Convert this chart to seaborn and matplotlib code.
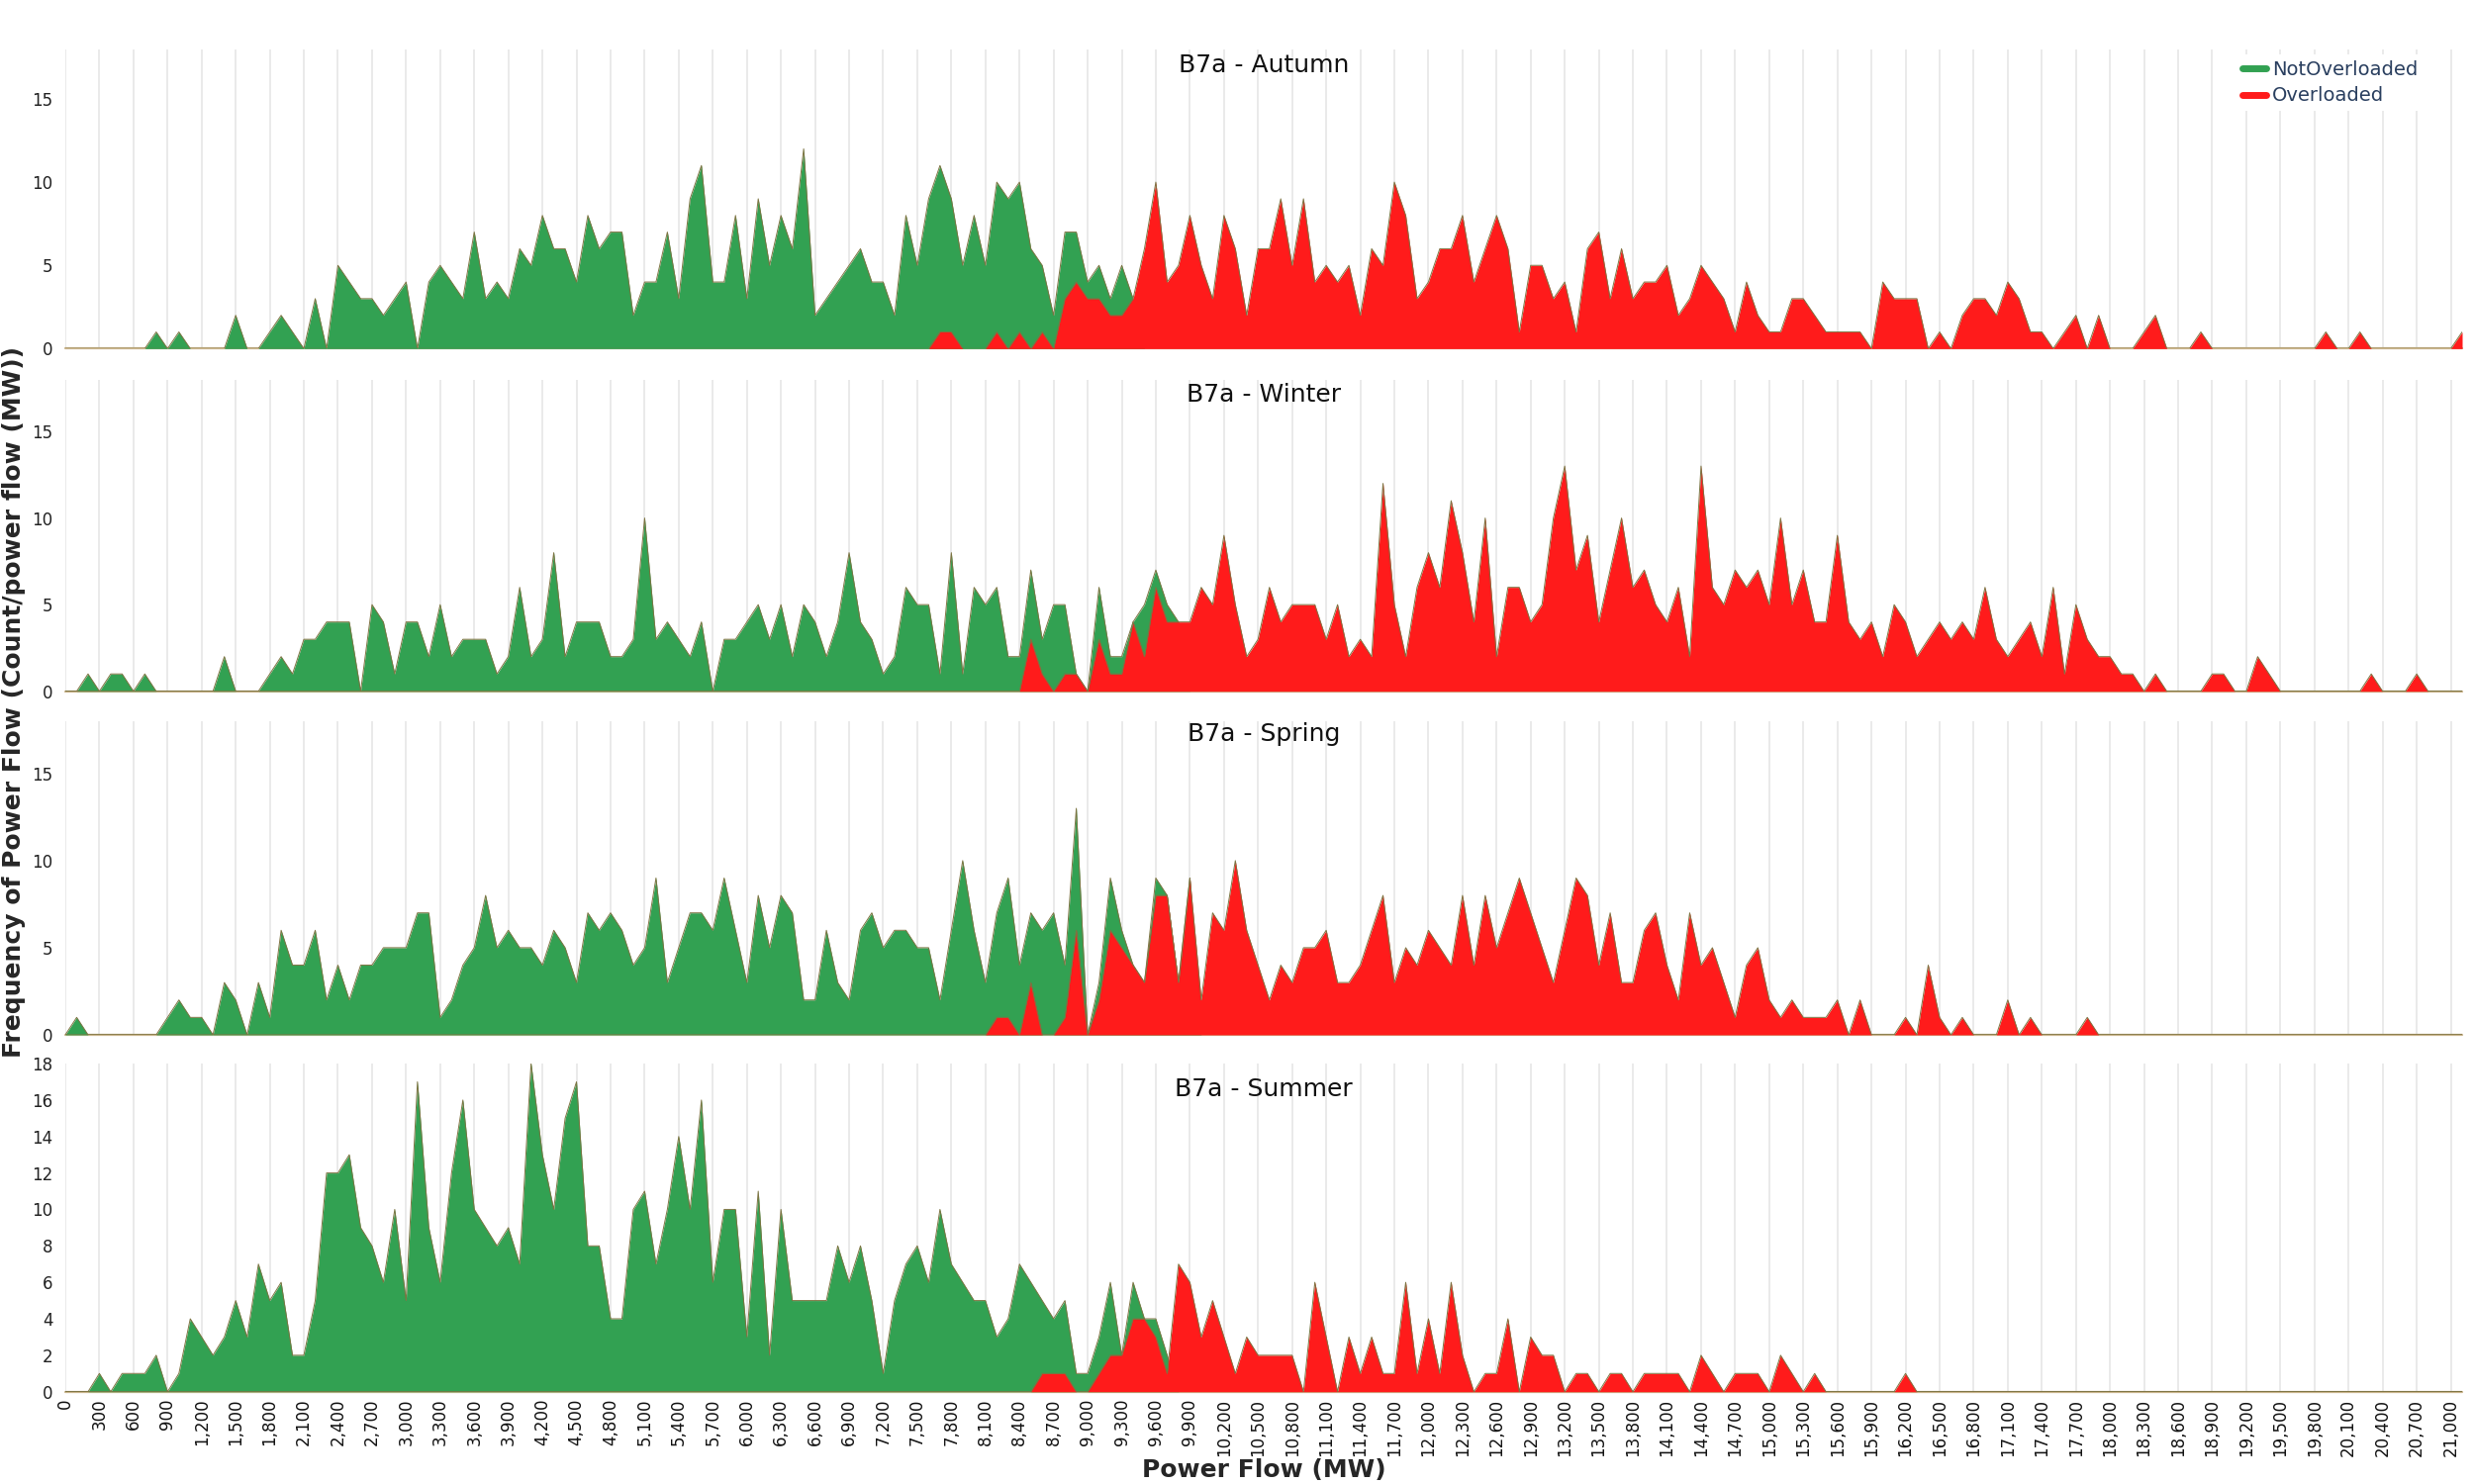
import matplotlib
matplotlib.use("Agg")
import matplotlib.pyplot as plt
import seaborn as sns
import numpy as np
from matplotlib.lines import Line2D

# ---------------- data (counts per 100 MW bin, 0 .. 21,100 MW) ----------------
power_flow_mw = list(range(0, 21101, 100))

autumn_not_overloaded = [
    0, 0, 0, 0, 0, 0, 0, 0, 1, 0,
    1, 0, 0, 0, 0, 2, 0, 0, 1, 2,
    1, 0, 3, 0, 5, 4, 3, 3, 2, 3,
    4, 0, 4, 5, 4, 3, 7, 3, 4, 3,
    6, 5, 8, 6, 6, 4, 8, 6, 7, 7,
    2, 4, 4, 7, 3, 9, 11, 4, 4, 8,
    3, 9, 5, 8, 6, 12, 2, 3, 4, 5,
    6, 4, 4, 2, 8, 5, 9, 11, 9, 5,
    8, 5, 10, 9, 10, 6, 5, 2, 7, 7,
    4, 5, 3, 5, 3, 0, 0, 0, 0, 0,
    0, 0, 0, 0, 0, 0, 0, 0, 0, 0,
    0, 0, 0, 0, 0, 0, 0, 0, 0, 0,
    0, 0, 0, 0, 0, 0, 0, 0, 0, 0,
    0, 0, 0, 0, 0, 0, 0, 0, 0, 0,
    0, 0, 0, 0, 0, 0, 0, 0, 0, 0,
    0, 0, 0, 0, 0, 0, 0, 0, 0, 0,
    0, 0, 0, 0, 0, 0, 0, 0, 0, 0,
    0, 0, 0, 0, 0, 0, 0, 0, 0, 0,
    0, 0, 0, 0, 0, 0, 0, 0, 0, 0,
    0, 0, 0, 0, 0, 0, 0, 0, 0, 0,
    0, 0, 0, 0, 0, 0, 0, 0, 0, 0,
    0, 0]
autumn_overloaded = [
    0, 0, 0, 0, 0, 0, 0, 0, 0, 0,
    0, 0, 0, 0, 0, 0, 0, 0, 0, 0,
    0, 0, 0, 0, 0, 0, 0, 0, 0, 0,
    0, 0, 0, 0, 0, 0, 0, 0, 0, 0,
    0, 0, 0, 0, 0, 0, 0, 0, 0, 0,
    0, 0, 0, 0, 0, 0, 0, 0, 0, 0,
    0, 0, 0, 0, 0, 0, 0, 0, 0, 0,
    0, 0, 0, 0, 0, 0, 0, 1, 1, 0,
    0, 0, 1, 0, 1, 0, 1, 0, 3, 4,
    3, 3, 2, 2, 3, 6, 10, 4, 5, 8,
    5, 3, 8, 6, 2, 6, 6, 9, 5, 9,
    4, 5, 4, 5, 2, 6, 5, 10, 8, 3,
    4, 6, 6, 8, 4, 6, 8, 6, 1, 5,
    5, 3, 4, 1, 6, 7, 3, 6, 3, 4,
    4, 5, 2, 3, 5, 4, 3, 1, 4, 2,
    1, 1, 3, 3, 2, 1, 1, 1, 1, 0,
    4, 3, 3, 3, 0, 1, 0, 2, 3, 3,
    2, 4, 3, 1, 1, 0, 1, 2, 0, 2,
    0, 0, 0, 1, 2, 0, 0, 0, 1, 0,
    0, 0, 0, 0, 0, 0, 0, 0, 0, 1,
    0, 0, 1, 0, 0, 0, 0, 0, 0, 0,
    0, 1]

winter_not_overloaded = [
    0, 0, 1, 0, 1, 1, 0, 1, 0, 0,
    0, 0, 0, 0, 2, 0, 0, 0, 1, 2,
    1, 3, 3, 4, 4, 4, 0, 5, 4, 1,
    4, 4, 2, 5, 2, 3, 3, 3, 1, 2,
    6, 2, 3, 8, 2, 4, 4, 4, 2, 2,
    3, 10, 3, 4, 3, 2, 4, 0, 3, 3,
    4, 5, 3, 5, 2, 5, 4, 2, 4, 8,
    4, 3, 1, 2, 6, 5, 5, 1, 8, 1,
    6, 5, 6, 2, 2, 7, 3, 5, 5, 1,
    0, 6, 2, 2, 4, 5, 7, 5, 4, 0,
    0, 0, 0, 0, 0, 0, 0, 0, 0, 0,
    0, 0, 0, 0, 0, 0, 0, 0, 0, 0,
    0, 0, 0, 0, 0, 0, 0, 0, 0, 0,
    0, 0, 0, 0, 0, 0, 0, 0, 0, 0,
    0, 0, 0, 0, 0, 0, 0, 0, 0, 0,
    0, 0, 0, 0, 0, 0, 0, 0, 0, 0,
    0, 0, 0, 0, 0, 0, 0, 0, 0, 0,
    0, 0, 0, 0, 0, 0, 0, 0, 0, 0,
    0, 0, 0, 0, 0, 0, 0, 0, 0, 0,
    0, 0, 0, 0, 0, 0, 0, 0, 0, 0,
    0, 0, 0, 0, 0, 0, 0, 0, 0, 0,
    0, 0]
winter_overloaded = [
    0, 0, 0, 0, 0, 0, 0, 0, 0, 0,
    0, 0, 0, 0, 0, 0, 0, 0, 0, 0,
    0, 0, 0, 0, 0, 0, 0, 0, 0, 0,
    0, 0, 0, 0, 0, 0, 0, 0, 0, 0,
    0, 0, 0, 0, 0, 0, 0, 0, 0, 0,
    0, 0, 0, 0, 0, 0, 0, 0, 0, 0,
    0, 0, 0, 0, 0, 0, 0, 0, 0, 0,
    0, 0, 0, 0, 0, 0, 0, 0, 0, 0,
    0, 0, 0, 0, 0, 3, 1, 0, 1, 1,
    0, 3, 1, 1, 4, 2, 6, 4, 4, 4,
    6, 5, 9, 5, 2, 3, 6, 4, 5, 5,
    5, 3, 5, 2, 3, 2, 12, 5, 2, 6,
    8, 6, 11, 8, 4, 10, 2, 6, 6, 4,
    5, 10, 13, 7, 9, 4, 7, 10, 6, 7,
    5, 4, 6, 2, 13, 6, 5, 7, 6, 7,
    5, 10, 5, 7, 4, 4, 9, 4, 3, 4,
    2, 5, 4, 2, 3, 4, 3, 4, 3, 6,
    3, 2, 3, 4, 2, 6, 1, 5, 3, 2,
    2, 1, 1, 0, 1, 0, 0, 0, 0, 1,
    1, 0, 0, 2, 1, 0, 0, 0, 0, 0,
    0, 0, 0, 1, 0, 0, 0, 1, 0, 0,
    0, 0]

spring_not_overloaded = [
    0, 1, 0, 0, 0, 0, 0, 0, 0, 1,
    2, 1, 1, 0, 3, 2, 0, 3, 1, 6,
    4, 4, 6, 2, 4, 2, 4, 4, 5, 5,
    5, 7, 7, 1, 2, 4, 5, 8, 5, 6,
    5, 5, 4, 6, 5, 3, 7, 6, 7, 6,
    4, 5, 9, 3, 5, 7, 7, 6, 9, 6,
    3, 8, 5, 8, 7, 2, 2, 6, 3, 2,
    6, 7, 5, 6, 6, 5, 5, 2, 6, 10,
    6, 3, 7, 9, 4, 7, 6, 7, 4, 13,
    0, 3, 9, 6, 4, 3, 9, 8, 3, 9,
    0, 0, 0, 0, 0, 0, 0, 0, 0, 0,
    0, 0, 0, 0, 0, 0, 0, 0, 0, 0,
    0, 0, 0, 0, 0, 0, 0, 0, 0, 0,
    0, 0, 0, 0, 0, 0, 0, 0, 0, 0,
    0, 0, 0, 0, 0, 0, 0, 0, 0, 0,
    0, 0, 0, 0, 0, 0, 0, 0, 0, 0,
    0, 0, 0, 0, 0, 0, 0, 0, 0, 0,
    0, 0, 0, 0, 0, 0, 0, 0, 0, 0,
    0, 0, 0, 0, 0, 0, 0, 0, 0, 0,
    0, 0, 0, 0, 0, 0, 0, 0, 0, 0,
    0, 0, 0, 0, 0, 0, 0, 0, 0, 0,
    0, 0]
spring_overloaded = [
    0, 0, 0, 0, 0, 0, 0, 0, 0, 0,
    0, 0, 0, 0, 0, 0, 0, 0, 0, 0,
    0, 0, 0, 0, 0, 0, 0, 0, 0, 0,
    0, 0, 0, 0, 0, 0, 0, 0, 0, 0,
    0, 0, 0, 0, 0, 0, 0, 0, 0, 0,
    0, 0, 0, 0, 0, 0, 0, 0, 0, 0,
    0, 0, 0, 0, 0, 0, 0, 0, 0, 0,
    0, 0, 0, 0, 0, 0, 0, 0, 0, 0,
    0, 0, 1, 1, 0, 3, 0, 0, 1, 6,
    0, 2, 6, 5, 4, 3, 8, 8, 3, 9,
    2, 7, 6, 10, 6, 4, 2, 4, 3, 5,
    5, 6, 3, 3, 4, 6, 8, 3, 5, 4,
    6, 5, 4, 8, 4, 8, 5, 7, 9, 7,
    5, 3, 6, 9, 8, 4, 7, 3, 3, 6,
    7, 4, 2, 7, 4, 5, 3, 1, 4, 5,
    2, 1, 2, 1, 1, 1, 2, 0, 2, 0,
    0, 0, 1, 0, 4, 1, 0, 1, 0, 0,
    0, 2, 0, 1, 0, 0, 0, 0, 1, 0,
    0, 0, 0, 0, 0, 0, 0, 0, 0, 0,
    0, 0, 0, 0, 0, 0, 0, 0, 0, 0,
    0, 0, 0, 0, 0, 0, 0, 0, 0, 0,
    0, 0]

summer_not_overloaded = [
    0, 0, 0, 1, 0, 1, 1, 1, 2, 0,
    1, 4, 3, 2, 3, 5, 3, 7, 5, 6,
    2, 2, 5, 12, 12, 13, 9, 8, 6, 10,
    5, 17, 9, 6, 12, 16, 10, 9, 8, 9,
    7, 18, 13, 10, 15, 17, 8, 8, 4, 4,
    10, 11, 7, 10, 14, 10, 16, 6, 10, 10,
    3, 11, 2, 10, 5, 5, 5, 5, 8, 6,
    8, 5, 1, 5, 7, 8, 6, 10, 7, 6,
    5, 5, 3, 4, 7, 6, 5, 4, 5, 1,
    1, 3, 6, 2, 6, 4, 4, 2, 0, 0,
    0, 0, 0, 0, 0, 0, 0, 0, 0, 0,
    0, 0, 0, 0, 0, 0, 0, 0, 0, 0,
    0, 0, 0, 0, 0, 0, 0, 0, 0, 0,
    0, 0, 0, 0, 0, 0, 0, 0, 0, 0,
    0, 0, 0, 0, 0, 0, 0, 0, 0, 0,
    0, 0, 0, 0, 0, 0, 0, 0, 0, 0,
    0, 0, 0, 0, 0, 0, 0, 0, 0, 0,
    0, 0, 0, 0, 0, 0, 0, 0, 0, 0,
    0, 0, 0, 0, 0, 0, 0, 0, 0, 0,
    0, 0, 0, 0, 0, 0, 0, 0, 0, 0,
    0, 0, 0, 0, 0, 0, 0, 0, 0, 0,
    0, 0]
summer_overloaded = [
    0, 0, 0, 0, 0, 0, 0, 0, 0, 0,
    0, 0, 0, 0, 0, 0, 0, 0, 0, 0,
    0, 0, 0, 0, 0, 0, 0, 0, 0, 0,
    0, 0, 0, 0, 0, 0, 0, 0, 0, 0,
    0, 0, 0, 0, 0, 0, 0, 0, 0, 0,
    0, 0, 0, 0, 0, 0, 0, 0, 0, 0,
    0, 0, 0, 0, 0, 0, 0, 0, 0, 0,
    0, 0, 0, 0, 0, 0, 0, 0, 0, 0,
    0, 0, 0, 0, 0, 0, 1, 1, 1, 0,
    0, 1, 2, 2, 4, 4, 3, 1, 7, 6,
    3, 5, 3, 1, 3, 2, 2, 2, 2, 0,
    6, 3, 0, 3, 1, 3, 1, 1, 6, 1,
    4, 1, 6, 2, 0, 1, 1, 4, 0, 3,
    2, 2, 0, 1, 1, 0, 1, 1, 0, 1,
    1, 1, 1, 0, 2, 1, 0, 1, 1, 1,
    0, 2, 1, 0, 1, 0, 0, 0, 0, 0,
    0, 0, 1, 0, 0, 0, 0, 0, 0, 0,
    0, 0, 0, 0, 0, 0, 0, 0, 0, 0,
    0, 0, 0, 0, 0, 0, 0, 0, 0, 0,
    0, 0, 0, 0, 0, 0, 0, 0, 0, 0,
    0, 0, 0, 0, 0, 0, 0, 0, 0, 0,
    0, 0]

panel_titles = ["B7a - Autumn", "B7a - Winter", "B7a - Spring", "B7a - Summer"]
series_labels = ["NotOverloaded", "Overloaded"]
x_tick_values = list(range(0, 21001, 300))
y_ticks_small = [0, 5, 10, 15]
y_ticks_summer = [0, 2, 4, 6, 8, 10, 12, 14, 16, 18]

# ---------------- style ----------------
sns.set_theme(style="white")
plt.rcParams["font.family"] = ["DejaVu Sans"]

GREEN = "#32a152"
RED = "#ff1b1b"
EDGE = "#7d7442"
GRID = "#e4e4e4"
BASE = "#c9b48c"

fig = plt.figure(figsize=(25, 15), dpi=100)

rects = [
    [0.0264, 0.7651, 0.9688, 0.2019],
    [0.0264, 0.5342, 0.9688, 0.2101],
    [0.0264, 0.3027, 0.9688, 0.2113],
    [0.0264, 0.0622, 0.9688, 0.2211],
]
title_y = [0.945, 0.950, 0.960, 0.922]

data = [
    (autumn_not_overloaded, autumn_overloaded),
    (winter_not_overloaded, winter_overloaded),
    (spring_not_overloaded, spring_overloaded),
    (summer_not_overloaded, summer_overloaded),
]

x = np.array(power_flow_mw)
for i, (rect, (g, r)) in enumerate(zip(rects, data)):
    ax = fig.add_axes(rect)
    g = np.array(g)
    r = np.array(r)
    ax.axhline(0, color=BASE, lw=1.6, zorder=1, clip_on=False)
    ax.fill_between(x, 0, g, color=GREEN, lw=0, zorder=2)
    sns.lineplot(x=x, y=g, ax=ax, color=EDGE, lw=0.7, zorder=3, legend=False)
    ax.fill_between(x, 0, r, color=RED, lw=0, zorder=4)
    sns.lineplot(x=x, y=r, ax=ax, color=EDGE, lw=0.7, zorder=5, legend=False)

    ax.set_xlim(0, 21100)
    ax.set_ylim(0, 18)
    ax.set_xticks(x_tick_values)
    ax.grid(True, axis="x", color=GRID, lw=1.1)
    ax.grid(False, axis="y")
    ax.set_axisbelow(True)
    for s in ax.spines.values():
        s.set_visible(False)
    ax.set_xlabel("")
    ax.set_ylabel("")
    ax.tick_params(axis="both", length=0)
    ax.tick_params(axis="y", pad=9, labelsize=12, labelcolor="#222222")
    if i < 3:
        ax.set_yticks(y_ticks_small)
        ax.set_xticklabels([])
    else:
        ax.set_yticks(y_ticks_summer)
        ax.set_xticklabels([f"{v:,}" for v in x_tick_values], rotation=90,
                           fontsize=12, color="#111111")
        ax.tick_params(axis="x", pad=5)
    ax.text(0.5, title_y[i], panel_titles[i], transform=ax.transAxes,
            ha="center", va="center", fontsize=18, color="#111111", zorder=10)

handles = [Line2D([0], [0], color=GREEN, lw=5), Line2D([0], [0], color=RED, lw=5)]
leg = fig.legend(handles, series_labels, loc="upper left",
                 bbox_to_anchor=(0.9, 0.97), frameon=True, facecolor="white",
                 edgecolor="none", framealpha=1, fontsize=14, handlelength=1.25,
                 handletextpad=0.3, labelspacing=0.4, borderpad=0.3,
                 labelcolor="#2a3f5f")

fig.text(0.0055, 0.527, "Frequency of Power Flow (Count/power flow (MW))",
         rotation=90, ha="center", va="center", fontsize=18, fontweight="bold")
fig.text(0.511, 0.0095, "Power Flow (MW)", ha="center", va="center",
         fontsize=18, fontweight="bold")

fig.savefig("out.png", dpi=100, facecolor="white")
